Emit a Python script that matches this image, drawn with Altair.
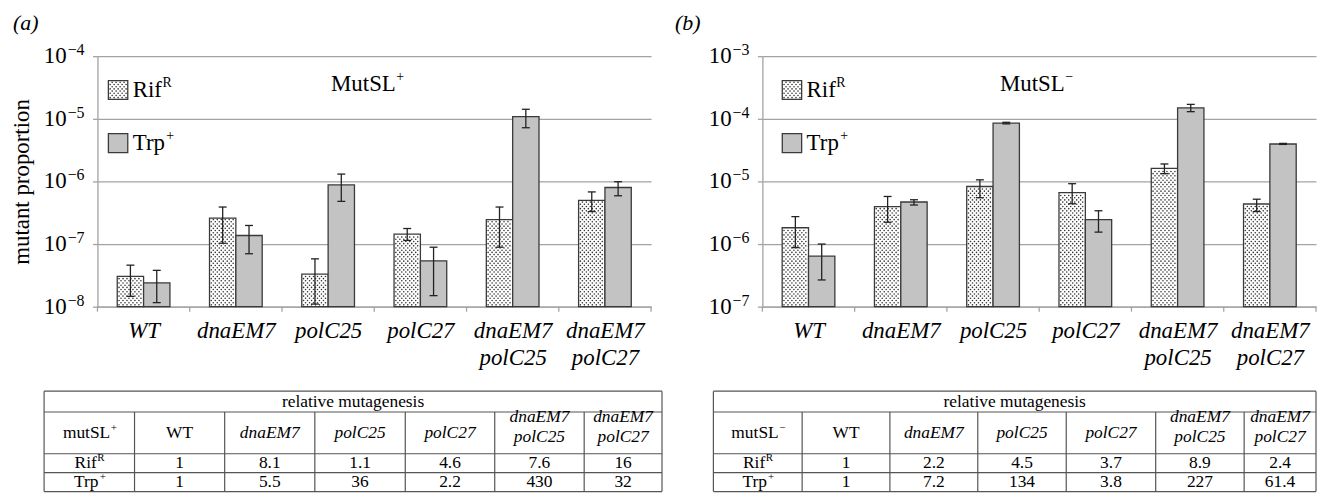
import math
import json
import altair as alt
import pandas as pd

# ---------------- data ----------------
categories = ["WT", "dnaEM7", "polC25", "polC27", "dnaEM7\npolC25", "dnaEM7\npolC27"]

# (a) MutSL+ : mutant proportions and error-bar ends
a_rif = [3.05e-8, 2.6e-7, 3.3e-8, 1.44e-7, 2.45e-7, 5.0e-7]
a_rif_lo = [1.46e-8, 1.03e-7, 1.1e-8, 1.14e-7, 8.9e-8, 3.3e-7]
a_rif_hi = [4.6e-8, 3.9e-7, 5.8e-8, 1.77e-7, 3.9e-7, 6.8e-7]
a_trp = [2.4e-8, 1.37e-7, 8.8e-7, 5.4e-8, 1.08e-5, 8.0e-7]
a_trp_lo = [1.16e-8, 7.0e-8, 4.8e-7, 1.5e-8, 7.2e-6, 5.9e-7]
a_trp_hi = [3.8e-8, 1.98e-7, 1.31e-6, 8.9e-8, 1.42e-5, 9.9e-7]

# (b) MutSL-
b_rif = [1.82e-6, 3.95e-6, 8.3e-6, 6.6e-6, 1.62e-5, 4.36e-6]
b_rif_lo = [8.8e-7, 2.23e-6, 5.5e-6, 4.4e-6, 1.33e-5, 3.3e-6]
b_rif_hi = [2.75e-6, 5.75e-6, 1.06e-5, 9.2e-6, 1.9e-5, 5.2e-6]
b_trp = [6.4e-7, 4.69e-6, 8.5e-5, 2.46e-6, 1.5e-4, 3.96e-5]
b_trp_lo = [2.67e-7, 4.2e-6, 8.3e-5, 1.55e-6, 1.3e-4, 3.9e-5]
b_trp_hi = [1.0e-6, 5.1e-6, 8.8e-5, 3.4e-6, 1.7e-4, 4.05e-5]

# relative mutagenesis tables
a_rel_rif = ["1", "8.1", "1.1", "4.6", "7.6", "16"]
a_rel_trp = ["1", "5.5", "36", "2.2", "430", "32"]
b_rel_rif = ["1", "2.2", "4.5", "3.7", "8.9", "2.4"]
b_rel_trp = ["1", "7.2", "134", "3.8", "227", "61.4"]

# ---------------- style ----------------
FONT = "Liberation Serif"
W, H = 557, 252
BAR_PX = 26.5
GRID = "#a3a3a3"
EDGE = "#3a3a3a"
ERR = "#222222"
TRP_FILL = "#c3c3c3"
DOT = "#333333"
TAB_LINE = "#555555"
FS = 23
SUP_FS = 14
EXP_FS = 16
TFS = 17.5
TSUP_FS = 11
T_LH = 20

TIMES = {"M": 0.889, "u": 0.5, "t": 0.278, "S": 0.556, "L": 0.611, "R": 0.667,
         "i": 0.278, "f": 0.333, "T": 0.611, "r": 0.333, "p": 0.5, "m": 0.778}


def tw(s, size):
    return sum(TIMES.get(c, 0.5) for c in s) * size


def build_panel(tag, rif, rif_lo, rif_hi, trp, trp_lo, trp_hi, rel_rif, rel_trp,
                top_exp, mut_sign, leg_x, note_x, tab_left, col_widths, tag_dx, y_title):
    n = len(categories)
    band = W / n
    ppd = H / 4.0
    bot = 10.0 ** (top_exp - 4)
    exps = list(range(top_exp - 4, top_exp + 1))

    def xd(px):
        return -0.5 + px / band

    def yd(py):
        return 10.0 ** (top_exp - py / ppd)

    xs = alt.Scale(domain=[-0.5, n - 0.5], nice=False, zero=False)
    ys = alt.Scale(type="log", domain=[bot, 10.0 ** top_exp], nice=False)
    x_lab = json.dumps([c.split("\n") for c in categories]) + "[datum.value]"
    ax_x = alt.Axis(values=list(range(n)), labelExpr=x_lab, ticks=False, grid=False,
                    domainColor=GRID, domainWidth=1.3, labelFont=FONT, labelFontSize=FS,
                    labelFontStyle="italic", labelFontWeight="normal", labelColor="black",
                    labelLineHeight=27, labelPadding=13, labelOverlap=False, labelFlush=False,
                    title=None)
    ax_y = alt.Axis(values=[10.0 ** e for e in exps], labels=False,
                    grid=True, gridColor=GRID, gridWidth=1.3, tickColor=GRID, tickSize=5,
                    tickWidth=1.3, domainColor=GRID, domainWidth=1.3,
                    title=y_title, titleFont=FONT, titleFontSize=FS, titleFontWeight="normal",
                    titleColor="black", titlePadding=59)

    def X(f):
        return alt.X(f, type="quantitative", scale=xs, axis=ax_x)

    def Y(f):
        return alt.Y(f, type="quantitative", scale=ys, axis=ax_y)

    fill = alt.Fill("s:N", scale=alt.Scale(domain=["Rif", "Trp"], range=["white", TRP_FILL]), legend=None)
    bw = BAR_PX / band

    rows = []
    for i in range(n):
        rows.append(dict(s="Rif", x0=i - bw, x1=i, xc=i - bw / 2, v=rif[i], lo=rif_lo[i], hi=rif_hi[i], base=bot))
        rows.append(dict(s="Trp", x0=i, x1=i + bw, xc=i + bw / 2, v=trp[i], lo=trp_lo[i], hi=trp_hi[i], base=bot))
    bdf = pd.DataFrame(rows)

    def texture(x0, x1, y_lo, y_hi):
        px0 = (x0 + 0.5) * band
        px1 = (x1 + 0.5) * band
        pt = (top_exp - math.log10(y_hi)) * ppd
        pb = (top_exp - math.log10(y_lo)) * ppd
        out = []
        k = 0
        py = pb - 1.8
        while py > pt + 1.3:
            px = px0 + (1.8 if k % 2 == 0 else 3.8)
            while px < px1 - 1.3:
                out.append({"x": xd(px), "y": yd(py)})
                px += 4.0
            py -= 2.2
            k += 1
        return out

    bar_tex = []
    for i in range(n):
        bar_tex += texture(i - bw, i, bot, rif[i])

    # legend squares (pixel offsets inside the plot, mapped through the scales)
    leg = pd.DataFrame([
        dict(s="Rif", x0=xd(leg_x), x1=xd(leg_x + 19.5), y0=yd(43.5), y1=yd(24.5)),
        dict(s="Trp", x0=xd(leg_x), x1=xd(leg_x + 19.5), y0=yd(97), y1=yd(78)),
    ])
    leg_tex = texture(xd(leg_x), xd(leg_x + 19.5), yd(43.5), yd(24.5))

    tx = leg_x + 24.5
    leg_txt = pd.DataFrame([
        dict(x=xd(tx), y=yd(34), t="Rif"),
        dict(x=xd(tx), y=yd(87.5), t="Trp"),
        dict(x=xd(note_x), y=yd(28), t="MutSL"),
    ])
    leg_sup = pd.DataFrame([
        dict(x=xd(tx + tw("Rif", FS) + 0.5), y=yd(34 - 7.5), t="R"),
        dict(x=xd(tx + tw("Trp", FS) + 0.5), y=yd(87.5 - 7.5), t="+"),
        dict(x=xd(note_x + tw("MutSL", FS) + 0.5), y=yd(28 - 7.5), t=mut_sign),
    ])

    def dots(rows_):
        return alt.Chart(pd.DataFrame(rows_)).mark_circle(size=2.6, color=DOT, opacity=1).encode(
            x=X("x"), y=Y("y"))

    # y tick labels: "10" with a raised exponent
    ylab = pd.DataFrame({"v": [10.0 ** e for e in exps], "b": ["10"] * len(exps),
                         "e": ["−%d" % (-e) for e in exps]})
    ylab_b = alt.Chart(ylab).mark_text(align="right", baseline="middle", font=FONT, fontSize=FS,
                                       color="black").encode(
        x=alt.value(-31), y=Y("v"), text="b:N")
    ylab_e = alt.Chart(ylab).mark_text(align="left", baseline="middle", font=FONT, fontSize=EXP_FS,
                                       color="black", dy=-6).encode(
        x=alt.value(-30), y=Y("v"), text="e:N")

    bars = alt.Chart(bdf).mark_bar(stroke=EDGE, strokeWidth=1.3).encode(
        x=X("x0"), x2="x1:Q", y=Y("v"), y2="base:Q", fill=fill)
    err = alt.Chart(bdf).mark_rule(color=ERR, strokeWidth=1.3).encode(x=X("xc"), y=Y("lo"), y2="hi:Q")
    cap_lo = alt.Chart(bdf).mark_tick(orient="horizontal", size=8, thickness=1.3, color=ERR, opacity=1).encode(
        x=X("xc"), y=Y("lo"))
    cap_hi = alt.Chart(bdf).mark_tick(orient="horizontal", size=8, thickness=1.3, color=ERR, opacity=1).encode(
        x=X("xc"), y=Y("hi"))
    xticks = alt.Chart(pd.DataFrame({"b": [k - 0.5 for k in range(n + 1)]})).mark_rule(
        color=GRID, strokeWidth=1.3).encode(x=X("b"), y=alt.value(H), y2=alt.value(H + 5))
    leg_rect = alt.Chart(leg).mark_rect(stroke=EDGE, strokeWidth=1.3).encode(
        x=X("x0"), x2="x1:Q", y=Y("y0"), y2="y1:Q", fill=fill)
    leg_t = alt.Chart(leg_txt).mark_text(align="left", baseline="middle", font=FONT, fontSize=FS,
                                         color="black").encode(x=X("x"), y=Y("y"), text="t:N")
    leg_s = alt.Chart(leg_sup).mark_text(align="left", baseline="middle", font=FONT, fontSize=SUP_FS,
                                         color="black").encode(x=X("x"), y=Y("y"), text="t:N")
    main = alt.layer(bars, dots(bar_tex), err, cap_lo, cap_hi, xticks, leg_rect, dots(leg_tex),
                     leg_t, leg_s, ylab_b, ylab_e)

    # ---------------- table ----------------
    TAB_TOP = 337
    yb = [0, 21, 63, 82, 101]
    xb = [0]
    for w in col_widths:
        xb.append(xb[-1] + w)
    tws = xb[-1]
    txs = alt.Scale(domain=[0, tws], range=[tab_left, tab_left + tws], nice=False, zero=False)
    tys = alt.Scale(domain=[0, yb[-1]], range=[TAB_TOP, TAB_TOP + yb[-1]], nice=False, zero=False)

    def TX(f):
        return alt.X(f, type="quantitative", scale=txs, axis=None)

    def TY(f):
        return alt.Y(f, type="quantitative", scale=tys, axis=None)

    lines = []
    for y in yb:
        lines.append(dict(x=0, x2=tws, y=y, y2=y))
    for j, x in enumerate(xb):
        lines.append(dict(x=x, x2=x, y=0 if j in (0, len(xb) - 1) else yb[1], y2=yb[-1]))
    t_lines = alt.Chart(pd.DataFrame(lines)).mark_rule(color=TAB_LINE, strokeWidth=1.2).encode(
        x=TX("x"), x2="x2:Q", y=TY("y"), y2="y2:Q")

    cc = [(xb[k] + xb[k + 1]) / 2 for k in range(len(col_widths))]
    r1 = (yb[2] + yb[3]) / 2
    r2 = (yb[3] + yb[4]) / 2
    hc = (yb[1] + yb[2]) / 2
    upright = [dict(x=tws / 2, y=(yb[0] + yb[1]) / 2, t="relative mutagenesis"),
               dict(x=cc[1], y=hc, t=categories[0])]
    italic = []
    for k in range(1, n):
        nl = categories[k].count("\n") + 1
        # first line's centre; following lines go below it
        italic.append(dict(x=cc[k + 1], y=hc - (nl - 1) * T_LH / 2 - (6 if nl > 1 else 0),
                           t=categories[k]))
    for k in range(n):
        upright.append(dict(x=cc[k + 1], y=r1, t=rel_rif[k]))
        upright.append(dict(x=cc[k + 1], y=r2, t=rel_trp[k]))
    left, sups = [], []
    for base, sup, yy in (("mutSL", mut_sign, hc), ("Rif", "R", r1), ("Trp", "+", r2)):
        full = tw(base, TFS) + tw(sup, TSUP_FS)
        x0 = cc[0] - full / 2
        left.append(dict(x=x0, y=yy, t=base))
        sups.append(dict(x=x0 + tw(base, TFS) + 0.5, y=yy - 5, t=sup))

    t_up = alt.Chart(pd.DataFrame(upright)).mark_text(align="center", baseline="middle", font=FONT,
                                                      fontSize=TFS, color="black").encode(
        x=TX("x"), y=TY("y"), text="t:N")
    t_it = alt.Chart(pd.DataFrame(italic)).mark_text(align="center", baseline="middle", font=FONT,
                                                     fontSize=TFS, fontStyle="italic", color="black",
                                                     lineBreak="\n", lineHeight=T_LH).encode(
        x=TX("x"), y=TY("y"), text="t:N")
    t_left = alt.Chart(pd.DataFrame(left)).mark_text(align="left", baseline="middle", font=FONT,
                                                     fontSize=TFS, color="black").encode(
        x=TX("x"), y=TY("y"), text="t:N")
    t_sup = alt.Chart(pd.DataFrame(sups)).mark_text(align="left", baseline="middle", font=FONT,
                                                    fontSize=TSUP_FS, color="black").encode(
        x=TX("x"), y=TY("y"), text="t:N")
    table = alt.layer(t_lines, t_up, t_it, t_left, t_sup)

    title = alt.TitleParams(text=tag, anchor="start", frame="group", dx=tag_dx, offset=7,
                            font=FONT, fontSize=22, fontStyle="italic", fontWeight="normal",
                            color="black")
    return alt.layer(main, table).resolve_scale(x="independent", y="independent").properties(
        width=W, height=H, title=title)


pa = build_panel("(a)", a_rif, a_rif_lo, a_rif_hi, a_trp, a_trp_lo, a_trp_hi, a_rel_rif, a_rel_trp,
                 top_exp=-4, mut_sign="+", leg_x=11, note_x=235, tab_left=43.3 - 97,
                 col_widths=[91, 90.7, 90.7, 91, 90, 90, 78.3], tag_dx=-85,
                 y_title="mutant proportion")
pb = build_panel("(b)", b_rif, b_rif_lo, b_rif_hi, b_trp, b_trp_lo, b_trp_hi, b_rel_rif, b_rel_trp,
                 top_exp=-3, mut_sign="−", leg_x=20, note_x=239, tab_left=716.7 - 766,
                 col_widths=[89.3, 88.3, 88.4, 89, 90, 89, 72.3], tag_dx=-88, y_title=None)

chart = alt.hconcat(pa, pb, spacing=112, bounds="flush").properties(
    padding={"left": 2, "top": 3, "right": 0, "bottom": 0}
).configure(font=FONT).configure_axis(labelFont=FONT, titleFont=FONT).configure_view(stroke=None)

chart.save("out.html", embed_options={"renderer": "svg", "actions": False})
